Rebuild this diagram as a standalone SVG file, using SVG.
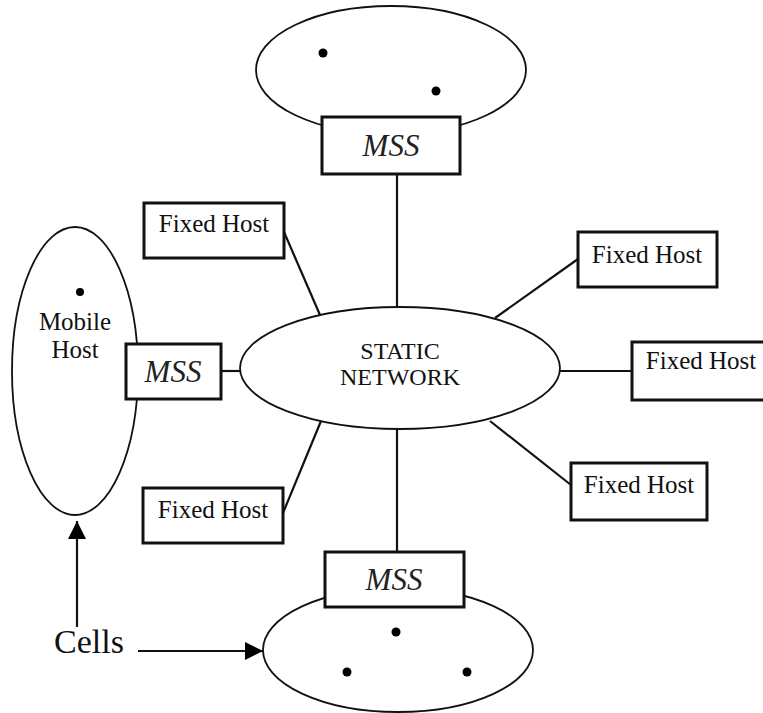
<svg xmlns="http://www.w3.org/2000/svg" width="763" height="713" viewBox="0 0 763 713">
  <style>
    .cell { fill: #fff; stroke: #111; stroke-width: 1.8; }
    .box { fill: #fff; stroke: #111; stroke-width: 3; }
    .link { stroke: #111; stroke-width: 2.2; fill: none; }
    .dot { fill: #000; }
    .lbl { font-family: "Liberation Serif", "Times New Roman", serif; fill: #111; text-anchor: middle; }
    .fh { font-size: 25px; }
    .net { font-size: 24px; }
    .mss { font-size: 31px; font-style: italic; fill: #222; }
  </style>
  <defs>
    <marker id="arrow" viewBox="0 0 10 10" refX="10" refY="5" markerWidth="18" markerHeight="18" markerUnits="userSpaceOnUse" orient="auto">
      <path d="M0,0 L10,5 L0,10 Z" fill="#000"/>
    </marker>
  </defs>

  <rect width="763" height="713" fill="#fff"/>

  <!-- connectors -->
  <g id="connectors">
    <line class="link" x1="397" y1="174" x2="397" y2="307"/>
    <line class="link" x1="397" y1="429" x2="397" y2="552"/>
    <line class="link" x1="221" y1="371" x2="240" y2="371"/>
    <line class="link" x1="560" y1="371" x2="632" y2="371"/>
    <line class="link" x1="284" y1="232" x2="320" y2="315"/>
    <line class="link" x1="283" y1="513" x2="321" y2="421"/>
    <line class="link" x1="578" y1="259" x2="495" y2="318"/>
    <line class="link" x1="571" y1="485" x2="490" y2="421"/>
    <line class="link" x1="77" y1="627" x2="77" y2="521" marker-end="url(#arrow)"/>
    <line class="link" x1="138" y1="651" x2="263" y2="651" marker-end="url(#arrow)"/>
  </g>

  <!-- static network -->
  <g id="static-network">
    <ellipse class="cell" cx="400" cy="368" rx="160" ry="61"/>
    <text class="lbl net" x="400" y="359">STATIC</text>
    <text class="lbl net" x="400" y="385">NETWORK</text>
  </g>

  <!-- top cell with its MSS -->
  <g id="cell-top">
    <ellipse class="cell" cx="391" cy="70" rx="135" ry="64"/>
    <circle class="dot" cx="323" cy="53" r="4.5"/>
    <circle class="dot" cx="436" cy="91" r="4.5"/>
  </g>
  <g id="mss-top">
    <rect class="box" x="322" y="117" width="138" height="57"/>
    <text class="lbl mss" x="391" y="156">MSS</text>
  </g>

  <!-- left cell with its MSS -->
  <g id="cell-left">
    <ellipse class="cell" cx="75" cy="371" rx="63" ry="144"/>
    <circle class="dot" cx="80" cy="292" r="4"/>
    <text class="lbl fh" x="75" y="330">Mobile</text>
    <text class="lbl fh" x="75" y="358">Host</text>
  </g>
  <g id="mss-left">
    <rect class="box" x="126" y="344" width="95" height="55"/>
    <text class="lbl mss" x="173" y="382">MSS</text>
  </g>

  <!-- bottom cell with its MSS -->
  <g id="cell-bottom">
    <ellipse class="cell" cx="398" cy="650" rx="135" ry="62"/>
    <circle class="dot" cx="396" cy="632" r="4.5"/>
    <circle class="dot" cx="347" cy="672" r="4.5"/>
    <circle class="dot" cx="467" cy="672" r="4.5"/>
  </g>
  <g id="mss-bottom">
    <rect class="box" x="325" y="552" width="139" height="55"/>
    <text class="lbl mss" x="394" y="590">MSS</text>
  </g>

  <!-- fixed hosts -->
  <g id="fixed-host-1">
    <rect class="box" x="144" y="203" width="140" height="55"/>
    <text class="lbl fh" x="214" y="232">Fixed Host</text>
  </g>
  <g id="fixed-host-2">
    <rect class="box" x="143" y="488" width="140" height="55"/>
    <text class="lbl fh" x="213" y="518">Fixed Host</text>
  </g>
  <g id="fixed-host-3">
    <rect class="box" x="578" y="232" width="139" height="55"/>
    <text class="lbl fh" x="647" y="263">Fixed Host</text>
  </g>
  <g id="fixed-host-4">
    <rect class="box" x="632" y="342" width="140" height="58"/>
    <text class="lbl fh" x="701" y="369">Fixed Host</text>
  </g>
  <g id="fixed-host-5">
    <rect class="box" x="571" y="463" width="136" height="57"/>
    <text class="lbl fh" x="639" y="493">Fixed Host</text>
  </g>

  <!-- caption -->
  <g id="cells-label">
    <text class="lbl" x="89" y="653" font-size="34">Cells</text>
  </g>
</svg>
